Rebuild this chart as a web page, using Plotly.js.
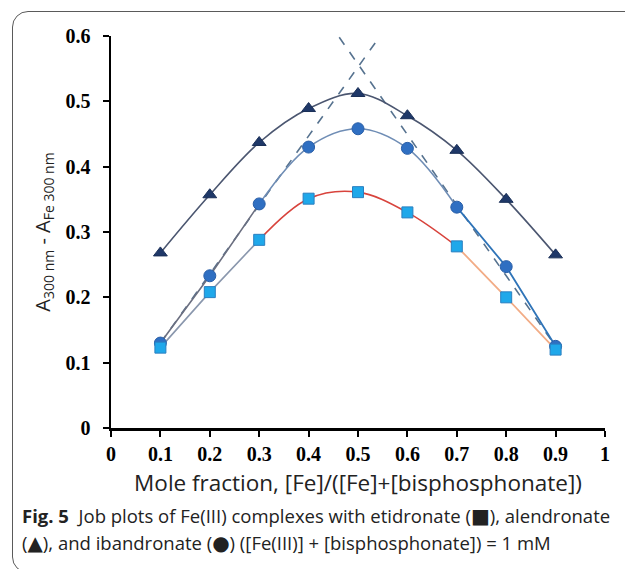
<!DOCTYPE html>
<html>
<head>
<meta charset="utf-8">
<script src="https://cdn.plot.ly/plotly-3.0.1.min.js"></script>
<style>
  html, body { margin: 0; padding: 0; background: #fff; }
  #wrap { position: relative; width: 625px; height: 569px; overflow: hidden; }
  #chart { position: absolute; left: 0; top: 0; width: 625px; height: 569px; }
  #frame { position: absolute; left: 12px; top: 11px; width: 680px; height: 562px;
           border: 1.5px solid #5a5a5a; border-radius: 16px; box-sizing: border-box; pointer-events: none; }
</style>
</head>
<body>
<div id="wrap">
  <div id="chart"></div>
  <div id="frame"></div>
</div>
<script>
// Mole fraction [Fe]/([Fe]+[bisphosphonate])
const moleFraction = [0.1, 0.2, 0.3, 0.4, 0.5, 0.6, 0.7, 0.8, 0.9];
// A(300 nm) - A(Fe 300 nm)
const alendronate = [0.268, 0.357, 0.437, 0.489, 0.512, 0.478, 0.425, 0.350, 0.265]; // triangles
const ibandronate = [0.130, 0.233, 0.343, 0.430, 0.458, 0.428, 0.338, 0.247, 0.125]; // circles
const etidronate  = [0.123, 0.208, 0.288, 0.351, 0.361, 0.330, 0.278, 0.200, 0.120]; // squares
// extrapolated tangent lines (dashed) for ibandronate
const tangentLeftX  = [0.1, 0.543];
const tangentLeftY  = [0.130, 0.598];
const tangentRightX = [0.462, 0.9];
const tangentRightY = [0.598, 0.125];

const xTickVals = [0, 0.1, 0.2, 0.3, 0.4, 0.5, 0.6, 0.7, 0.8, 0.9, 1];
const xTickText = ['0', '0.1', '0.2', '0.3', '0.4', '0.5', '0.6', '0.7', '0.8', '0.9', '1'];
const yTickVals = [0, 0.1, 0.2, 0.3, 0.4, 0.5, 0.6];
const yTickText = ['0', '0.1', '0.2', '0.3', '0.4', '0.5', '0.6'];

function seg(xs, ys, a, b) { return { x: xs.slice(a, b + 1), y: ys.slice(a, b + 1) }; }
function lineTrace(s, color, width, shape, dash) {
  return { x: s.x, y: s.y, mode: 'lines', type: 'scatter', hoverinfo: 'skip', showlegend: false,
           line: { color: color, width: width, shape: shape, smoothing: 1.0, dash: dash || 'solid' } };
}

const traces = [];
// dashed tangents
traces.push(lineTrace({ x: tangentLeftX, y: tangentLeftY }, '#56728f', 1.6, 'linear', 'dash'));
traces.push(lineTrace({ x: tangentRightX, y: tangentRightY }, '#56728f', 1.6, 'linear', 'dash'));
// alendronate smooth curve
traces.push(lineTrace({ x: moleFraction, y: alendronate }, '#4b5670', 1.6, 'spline'));
// ibandronate segments
traces.push(lineTrace(seg(moleFraction, ibandronate, 0, 2), '#6b6f80', 1.6, 'linear'));
traces.push(lineTrace(seg(moleFraction, ibandronate, 2, 6), '#6f8db5', 1.6, 'spline'));
traces.push(lineTrace(seg(moleFraction, ibandronate, 6, 8), '#2f74b8', 1.8, 'linear'));
// etidronate segments
traces.push(lineTrace(seg(moleFraction, etidronate, 0, 2), '#8a97ad', 1.6, 'linear'));
traces.push(lineTrace(seg(moleFraction, etidronate, 2, 6), '#d8433c', 1.6, 'spline'));
traces.push(lineTrace(seg(moleFraction, etidronate, 6, 8), '#f2ac86', 1.8, 'linear'));

// markers
traces.push({ x: moleFraction, y: alendronate, mode: 'markers', type: 'scatter', showlegend: false,
  marker: { symbol: 'triangle-up', size: 12, color: '#1f3868', line: { color: '#1a2f57', width: 1 } } });
traces.push({ x: moleFraction, y: ibandronate, mode: 'markers', type: 'scatter', showlegend: false,
  marker: { symbol: 'circle', size: 12, color: '#2f6fc2', line: { color: '#2a5fa8', width: 1 } } });
traces.push({ x: moleFraction, y: etidronate, mode: 'markers', type: 'scatter', showlegend: false,
  marker: { symbol: 'square', size: 11, color: '#1fa8ea', line: { color: '#2a7fc0', width: 1 } } });

const tickFont = { family: '"Liberation Serif", "Times New Roman", serif', size: 20, color: '#000' };
const sansFont = '"Open Sans", "Noto Sans", sans-serif';
const sym = (c, s) => '<span style="font-family:DejaVu Sans;font-size:' + s + 'px">' + c + '</span>';

const layout = {
  width: 625, height: 569,
  margin: { l: 111, r: 20, t: 36, b: 141 },
  paper_bgcolor: '#fff', plot_bgcolor: '#fff',
  showlegend: false,
  xaxis: {
    range: [0, 1], tickvals: xTickVals, ticktext: xTickText,
    showgrid: false, zeroline: false, showline: true, linecolor: '#000', linewidth: 2.5,
    ticks: 'outside', ticklen: 6, tickwidth: 2, tickcolor: '#000',
    tickfont: Object.assign({ weight: 'bold' }, tickFont), ticklabelstandoff: 0,
    title: { text: 'Mole fraction, [Fe]/([Fe]+[bisphosphonate])', font: { family: sansFont, size: 22.5, color: '#222' }, standoff: 12 }
  },
  yaxis: {
    range: [0, 0.6], tickvals: yTickVals, ticktext: yTickText,
    showgrid: false, zeroline: false, showline: true, linecolor: '#000', linewidth: 2.5,
    ticks: 'outside', ticklen: 6, tickwidth: 2, tickcolor: '#000',
    tickfont: Object.assign({ weight: 'bold' }, tickFont), ticklabelstandoff: 8,
    title: { text: 'A<sub>300 nm</sub> - A<sub>Fe 300 nm</sub>', font: { family: sansFont, size: 20, color: '#222' }, standoff: 10 }
  },
  annotations: [
    { xref: 'paper', yref: 'paper', x: -0.184, y: -0.222, xanchor: 'left', yanchor: 'middle', showarrow: false,
      align: 'left', font: { family: sansFont, size: 18.5, color: '#222' },
      text: '<b>Fig. 5</b>  Job plots of Fe(III) complexes with etidronate (' + sym('\u25A0', 20) + '), alendronate' },
    { xref: 'paper', yref: 'paper', x: -0.184, y: -0.293, xanchor: 'left', yanchor: 'middle', showarrow: false,
      align: 'left', font: { family: sansFont, size: 18.5, color: '#222' },
      text: '(' + sym('\u25B2', 20) + '), and ibandronate (' + sym('\u25CF', 20) + ') ([Fe(III)] + [bisphosphonate]) = 1 mM' }
  ]
};

Plotly.newPlot('chart', traces, layout, { displayModeBar: false, staticPlot: true });
</script>
</body>
</html>
